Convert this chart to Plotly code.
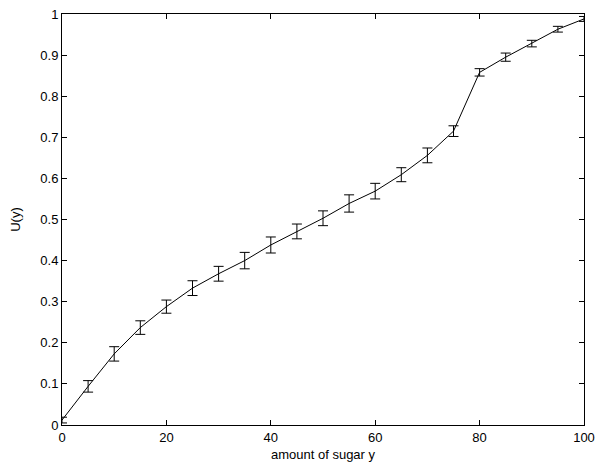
import plotly.graph_objects as go

sugar = [0, 5, 10, 15, 20, 25, 30, 35, 40, 45, 50, 55, 60, 65, 70, 75, 80, 85, 90, 95, 100]
utility = [0.012, 0.094, 0.173, 0.237, 0.288, 0.333, 0.368, 0.400, 0.438, 0.471, 0.503,
           0.539, 0.569, 0.609, 0.656, 0.715, 0.858, 0.895, 0.928, 0.963, 0.988]
err = [0.007, 0.014, 0.0175, 0.0165, 0.016, 0.018, 0.018, 0.020, 0.0195, 0.018, 0.018,
       0.021, 0.019, 0.017, 0.018, 0.013, 0.009, 0.010, 0.008, 0.007, 0.006]

x_ticks = [0, 20, 40, 60, 80, 100]
y_ticks = [0, 0.1, 0.2, 0.3, 0.4, 0.5, 0.6, 0.7, 0.8, 0.9, 1]

fig = go.Figure()
fig.add_trace(go.Scatter(
    x=sugar, y=utility, mode="lines",
    line=dict(color="black", width=1),
    error_y=dict(type="data", array=err, visible=True, color="black", thickness=1, width=5),
    showlegend=False, cliponaxis=False,
))

font = dict(family="Liberation Sans, Arial, sans-serif", size=13, color="black")
axis_common = dict(
    showgrid=False, zeroline=False, showline=True, linecolor="black", linewidth=1,
    mirror="ticks", ticks="inside", ticklen=5, tickcolor="black", tickwidth=1,
    tickfont=font, automargin=False,
)
fig.update_xaxes(range=[0, 100], tickvals=x_ticks, ticktext=[str(v) for v in x_ticks],
                 title=dict(text="amount of sugar y", font=font, standoff=6), **axis_common)
fig.update_yaxes(range=[0, 1], tickvals=y_ticks, ticktext=["0", "0.1", "0.2", "0.3", "0.4", "0.5", "0.6", "0.7", "0.8", "0.9", "1"],
                 title=dict(text="U(y)", font=font, standoff=16), **axis_common)
fig.update_layout(
    width=599, height=473,
    margin=dict(l=62, r=15, t=14, b=48, autoexpand=False),
    paper_bgcolor="white", plot_bgcolor="white",
    font=font,
)
fig.write_html("out.html", config={"displayModeBar": False},
               post_script="document.body.style.margin='0';document.body.style.overflow='hidden';")
